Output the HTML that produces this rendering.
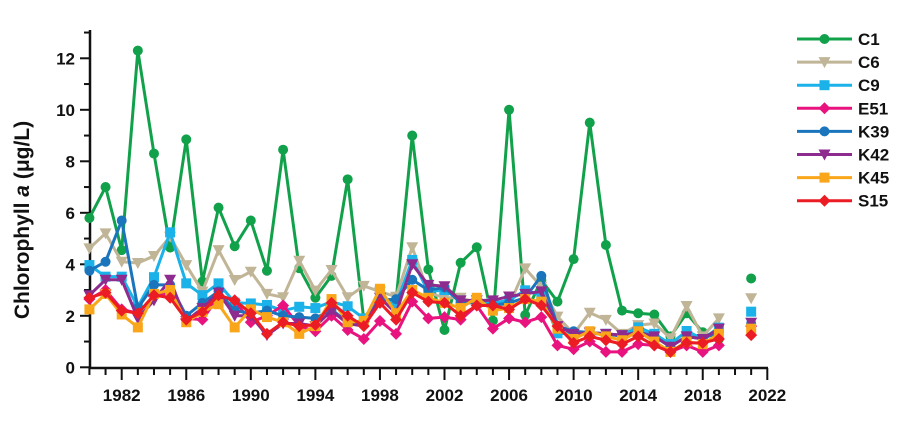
<!DOCTYPE html>
<html><head><meta charset="utf-8"><style>
body{margin:0;background:#fff;width:900px;height:420px;overflow:hidden;font-family:"Liberation Sans",sans-serif}
svg text{font-family:"Liberation Sans",sans-serif;fill:#111}
</style></head><body>
<svg id="chart" width="900" height="420" xmlns="http://www.w3.org/2000/svg"></svg>
<script>
const years=[];for(let y=1980;y<=2019;y++)years.push(y);
const seriesNames=["C1","C6","C9","E51","K39","K42","K45","S15"];
const seriesColors=["#12a14b","#c0b596","#1ab2e8","#e8137f","#1a75bc","#8e2b8e","#f9a61a","#ec1c24"];
const seriesMarkers=["circle","tri","square","diamond","circle","tri","square","diamond"];
const C1=[5.8,7.0,4.55,12.3,8.3,4.65,8.85,3.33,6.2,4.7,5.7,3.75,8.45,3.85,2.7,3.55,7.3,1.84,2.65,2.6,9.0,3.8,1.45,4.06,4.66,1.81,10.0,2.03,3.39,2.55,4.2,9.5,4.75,2.2,2.1,2.05,1.2,2.1,1.36,1.1];
const C6=[4.62,5.2,4.1,4.05,4.32,5.07,3.97,2.94,4.55,3.39,3.71,2.85,2.72,4.14,2.98,3.78,2.72,3.16,2.94,2.74,4.66,2.9,2.7,2.7,2.5,2.5,2.4,3.84,3.13,1.97,1.3,2.12,1.84,1.3,1.64,1.7,1.13,2.38,1.2,1.9];
const C9=[3.97,3.52,3.52,2.35,3.5,5.24,3.26,2.8,3.26,2.51,2.48,2.42,2.2,2.35,2.3,2.55,2.37,1.9,2.75,2.45,4.17,2.94,3.0,2.6,2.5,2.5,2.6,2.99,2.8,1.32,1.3,1.3,1.3,1.25,1.55,1.3,0.9,1.41,1.1,1.54];
const E51=[2.65,3.0,2.25,2.1,2.75,2.9,1.9,1.85,2.75,2.6,1.75,2.0,2.4,1.6,1.4,2.0,1.45,1.1,1.8,1.3,2.55,1.9,1.95,1.85,2.4,1.5,1.9,1.75,1.95,0.85,0.7,1.0,0.6,0.6,0.9,0.85,0.6,0.85,0.6,0.85];
const K39=[3.75,4.1,5.7,2.3,3.2,3.2,2.0,2.5,2.95,2.2,2.1,2.2,2.0,1.95,1.9,2.25,1.75,1.7,2.6,2.65,3.4,3.0,3.1,2.5,2.5,2.4,2.5,2.7,3.55,1.6,1.4,1.35,1.3,1.2,1.4,1.2,0.8,1.2,1.1,1.4];
const K42=[2.8,3.4,3.4,1.9,2.6,3.4,1.8,2.3,2.9,2.0,2.0,1.25,1.7,1.7,1.6,2.2,1.7,1.6,2.7,2.1,4.0,3.2,3.15,2.6,2.6,2.6,2.75,2.85,2.95,1.6,1.3,1.35,1.3,1.25,1.35,1.2,0.8,1.2,1.1,1.5];
const K45=[2.25,2.85,2.05,1.55,2.85,3.0,1.75,2.15,2.45,1.55,2.25,1.95,1.75,1.3,1.6,2.65,1.75,1.8,3.05,2.1,3.0,2.7,2.5,2.3,2.7,2.2,2.3,2.65,2.55,1.5,1.1,1.4,1.2,1.05,1.4,1.0,0.6,1.0,0.9,1.3];
const S15=[2.7,2.9,2.2,2.1,2.8,2.7,1.85,2.15,2.8,2.6,2.1,1.3,1.75,1.6,1.65,2.5,2.0,1.6,2.5,1.85,2.9,2.55,2.5,2.0,2.4,2.4,2.25,2.65,2.4,1.6,0.95,1.2,1.05,0.9,1.2,0.85,0.6,0.95,0.95,1.1];
const seriesValues=[C1,C6,C9,E51,K39,K42,K45,S15];
const extraYear=2021;
const extraValues=[3.45,2.68,2.16,1.6,1.7,1.73,1.5,1.25];
const yTicks=[0,2,4,6,8,10,12];
const xTickLabels=[1982,1986,1990,1994,1998,2002,2006,2010,2014,2018,2022];

const NS="http://www.w3.org/2000/svg";
const svg=document.getElementById('chart');
function X(yr){return 121.7+(yr-1982)*16.14;}
function Y(v){return 367.3-v*25.75;}
function mk(t,a,p){const e=document.createElementNS(NS,t);for(const k in a)e.setAttribute(k,a[k]);(p||svg).appendChild(e);return e;}

const axes=mk('g',{});


mk('line',{x1:90,y1:30,x2:90,y2:369,stroke:'#111','stroke-width':2.5},axes);
mk('line',{x1:89,y1:368,x2:768,y2:368,stroke:'#111','stroke-width':2.5},axes);
for(let v=0;v<=13;v++){
  mk('line',{x1:v%2===0?80:84,y1:Y(v),x2:90,y2:Y(v),stroke:'#111','stroke-width':2},axes);
}
yTicks.forEach(v=>{
  const t=mk('text',{x:75,y:Y(v)+6,'text-anchor':'end','font-size':17,'font-weight':'bold'},axes);
  
  
  t.textContent=v;
});
for(let yr=1980;yr<=2022;yr++){
  const major=(yr-1982)%4===0;
  mk('line',{x1:X(yr),y1:368,x2:X(yr),y2:major?380:375,stroke:'#111','stroke-width':2},axes);
}
xTickLabels.forEach(yr=>{
  const t=mk('text',{x:X(yr),y:401,'text-anchor':'middle','font-size':17,'font-weight':'bold'},axes);
  
  
  t.textContent=yr;
});
const yl=mk('text',{x:0,y:0,transform:'translate(29,220) rotate(-90)','text-anchor':'middle','font-size':21,'font-weight':'bold'});


yl.innerHTML='Chlorophyll <tspan font-style="italic">a</tspan> (μg/L)';

function marker(type,x,y,c,p){
  if(type==='circle')return mk('circle',{cx:x,cy:y,r:5,fill:c},p);
  if(type==='square')return mk('rect',{x:x-5,y:y-5,width:10,height:10,fill:c},p);
  if(type==='tri')return mk('polygon',{points:`${x-6},${y-5} ${x+6},${y-5} ${x},${y+6}`,fill:c},p);
  return mk('polygon',{points:`${x},${y-6} ${x+6},${y} ${x},${y+6} ${x-6},${y}`,fill:c},p);
}

seriesNames.forEach((name,i)=>{
  const g=mk('g',{});
  
  
  const vals=seriesValues[i];
  const pts=vals.map((v,j)=>X(years[j])+','+Y(v)).join(' ');
  const pl=mk('polyline',{points:pts,fill:'none',stroke:seriesColors[i],'stroke-width':3,'stroke-linejoin':'round'},g);
  
  
  vals.forEach((v,j)=>{
    const m=marker(seriesMarkers[i],X(years[j]),Y(v),seriesColors[i],g);
    
    
  });
  const m=marker(seriesMarkers[i],X(extraYear),Y(extraValues[i]),seriesColors[i],g);
  
  
  const ly=39+i*23.1;
  const lg=mk('g',{});
  
  
  mk('line',{x1:797,y1:ly,x2:852,y2:ly,stroke:seriesColors[i],'stroke-width':3},lg);
  marker(seriesMarkers[i],824.5,ly,seriesColors[i],lg);
  const t=mk('text',{x:858,y:ly+6,'font-size':17,'font-weight':'bold'},lg);
  t.textContent=name;
});
</script>
</body></html>
